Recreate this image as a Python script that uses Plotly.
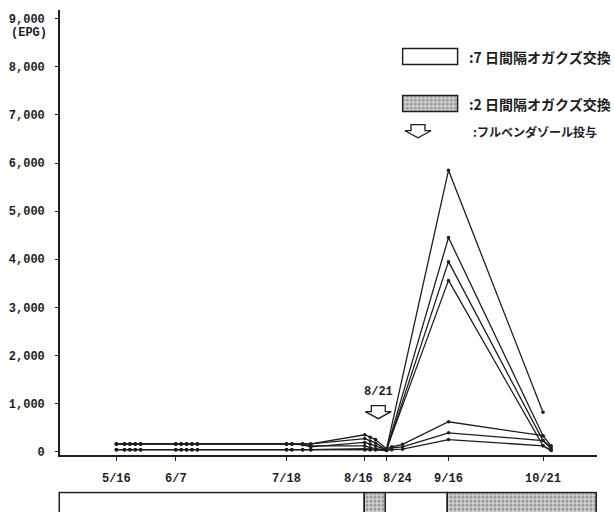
import datetime as dt
import plotly.graph_objects as go

# ---- data -------------------------------------------------------------
YEAR = 1989
sample_days = ["5/16", "5/19", "5/21", "5/23", "5/25",
               "6/7", "6/9", "6/11", "6/13", "6/15",
               "7/18", "7/20", "7/24", "7/27",
               "8/16", "8/18", "8/20", "8/24", "8/26", "8/30",
               "9/16", "10/21", "10/24"]

# EPG per animal on each sampling day (None = not sampled)
epg_a = [160, 160, 160, 160, 160, 160, 160, 160, 160, 160, 160, 160, 140, 100,
         190, 150, 120, 40, None, None, 5850, 820, None]
epg_b = [160, 160, 160, 160, 160, 160, 160, 160, 160, 160, 160, 160, 160, 120,
         120, 80, 60, 30, None, None, 4450, 330, 120]
epg_c = [40, 40, 40, 40, 40, 40, 40, 40, 40, 40, 40, 40, 40, 40,
         60, 50, 40, 20, None, None, 3950, 230, 60]
epg_d = [40, 40, 40, 40, 40, 40, 40, 40, 40, 40, 40, 40, 40, 40,
         40, 40, 40, 40, None, None, 3560, 120, 30]
epg_e = [160, 160, 160, 160, 160, 160, 160, 160, 160, 160, 160, 160, 160, 160,
         350, 300, 250, 60, 100, 150, 620, 330, None]
epg_f = [160, 160, 160, 160, 160, 160, 160, 160, 160, 160, 160, 160, 160, 160,
         270, 220, 180, 30, 80, 100, 390, 230, 100]
epg_g = [40, 40, 40, 40, 40, 40, 40, 40, 40, 40, 40, 40, 40, 40,
         40, 40, 40, 20, 40, 50, 250, 120, 20]

tick_days = ["5/16", "6/7", "7/18", "8/16", "8/24", "9/16", "10/21"]
y_ticks = [0, 1000, 2000, 3000, 4000, 5000, 6000, 7000, 8000, 9000]
y_tick_text = ["0", "1,000", "2,000", "3,000", "4,000", "5,000",
               "6,000", "7,000", "8,000", "9,000"]

# sawdust-exchange schedule: (start, end, interval in days)
exchange_start = ["4/25", "8/16", "8/24", "9/16"]
exchange_end = ["8/16", "8/24", "9/16", "11/10"]
exchange_interval = [7, 2, 7, 2]

dose_day = "8/21"          # flubendazole administration
axis_start, axis_end = "4/25", "11/10"

legend_texts = [":7 日間隔オガクズ交換", ":2 日間隔オガクズ交換", ":フルベンダゾール投与"]


def to_dt(md):
    m, d = md.split("/")
    return dt.datetime(YEAR, int(m), int(d))


def iso(t):
    return t.strftime("%Y-%m-%d %H:%M:%S")


# ---- layout helpers (pixel -> paper) ----------------------------------
W, H = 614, 517


def fx(p):
    return p / W


def fy(p):
    return (H - p) / H


INK = "#1e1e1e"
MONO = "Liberation Mono"
CJK = "Noto Sans CJK JP"
TICK_FONT = dict(family=MONO, size=12, color=INK, weight="bold")

PLOT_L, PLOT_R, PLOT_T, PLOT_B = 60, 597, 10, 459
STRIP_TOP = 498

x0 = to_dt(axis_start) + dt.timedelta(hours=3)
x1 = to_dt(axis_end)
ms_per_px = (x1 - x0) / (PLOT_R - PLOT_L)
PAD = 3  # extra pixels so strip outlines are not clipped
x2_range = [iso(x0 - ms_per_px * PAD), iso(x1 + ms_per_px * PAD)]

x_dates = [iso(to_dt(d)) for d in sample_days]

fig = go.Figure()

for series in [epg_a, epg_b, epg_c, epg_d, epg_e, epg_f, epg_g]:
    fig.add_trace(go.Scatter(
        x=x_dates, y=series, mode="lines+markers", connectgaps=True,
        line=dict(color=INK, width=1.3),
        marker=dict(color=INK, size=3.5),
        showlegend=False, hoverinfo="skip", xaxis="x", yaxis="y"))

# exchange-interval strip under the time axis
starts = [max(to_dt(s), x0) for s in exchange_start]
ends = [to_dt(e) for e in exchange_end]
durations = [(e - s).total_seconds() * 1000.0 for s, e in zip(starts, ends)]

STIPPLE = dict(shape=".", fgcolor="#5a5a5a", bgcolor="#d2d2d2", size=4, solidity=0.45)

for interval, fill in [(7, None), (2, STIPPLE)]:
    idx = [i for i, v in enumerate(exchange_interval) if v == interval]
    marker = dict(color="white" if fill is None else "#cfcfcf",
                  line=dict(color=INK, width=1.5))
    if fill is not None:
        marker["pattern"] = fill
    fig.add_trace(go.Bar(
        orientation="h", y=[0] * len(idx),
        base=[iso(starts[i]) for i in idx], x=[durations[i] for i in idx],
        width=1.0, marker=marker,
        showlegend=False, hoverinfo="skip", xaxis="x2", yaxis="y2"))

# legend keys
fig.add_trace(go.Bar(
    orientation="h", y=[1], x=[1], base=[0], width=0.34,
    marker=dict(color="white", line=dict(color=INK, width=1.5)),
    showlegend=False, hoverinfo="skip", xaxis="x3", yaxis="y3"))
fig.add_trace(go.Bar(
    orientation="h", y=[0], x=[1], base=[0], width=0.34,
    marker=dict(color="#cfcfcf", line=dict(color=INK, width=1.5), pattern=STIPPLE),
    showlegend=False, hoverinfo="skip", xaxis="x3", yaxis="y3"))

# strip y-range: bar top (0.5) sits 2 px under the domain top
STRIP_DOM_TOP = STRIP_TOP - 2
strip_h = H - STRIP_DOM_TOP
y2_lo = -0.3
y2_hi = (0.5 + 2 / strip_h * (-y2_lo)) / (1 - 2 / strip_h)

# the two crowded August ticks get their labels nudged apart as annotations
label_shift = {"8/16": -6, "8/24": 11}
tick_text = ["" if d in label_shift else d for d in tick_days]

fig.update_layout(
    width=W, height=H, margin=dict(l=0, r=0, t=0, b=0),
    paper_bgcolor="white", plot_bgcolor="rgba(0,0,0,0)",
    bargap=0, barmode="overlay",
    xaxis=dict(domain=[fx(PLOT_L), fx(PLOT_R)], type="date", range=[iso(x0), iso(x1)],
               tickvals=[iso(to_dt(d)) for d in tick_days], ticktext=tick_text,
               tickangle=0,
               ticks="outside", ticklen=5, tickwidth=1.3, tickcolor=INK,
               showline=True, linecolor=INK, linewidth=1.6,
               showgrid=False, zeroline=False, ticklabelstandoff=6,
               tickfont=TICK_FONT, anchor="y"),
    yaxis=dict(domain=[fy(PLOT_B), fy(PLOT_T)], range=[-62, 9185],
               tickvals=y_ticks, ticktext=y_tick_text,
               ticks="outside", ticklen=3, tickwidth=1.3, tickcolor=INK,
               showline=True, linecolor=INK, linewidth=1.6,
               showgrid=False, zeroline=False, ticklabelstandoff=8,
               tickfont=TICK_FONT, anchor="x"),
    xaxis2=dict(domain=[fx(PLOT_L - PAD), fx(PLOT_R + PAD)], type="date",
                range=x2_range, visible=False, anchor="y2"),
    yaxis2=dict(domain=[0, fy(STRIP_DOM_TOP)], range=[y2_lo, y2_hi], visible=False,
                anchor="x2"),
    xaxis3=dict(domain=[fx(401.35), fx(459.65)], range=[-0.03, 1.03],
                visible=False, anchor="y3"),
    yaxis3=dict(domain=[fy(128.5), fy(34.5)], range=[-0.5, 1.5],
                visible=False, anchor="x3"),
)

for d, shift in label_shift.items():
    fig.add_annotation(text=d, x=iso(to_dt(d)), xref="x", y=fy(475), yref="paper",
                       xshift=shift, showarrow=False, xanchor="center", yanchor="top",
                       font=TICK_FONT)

# y-axis unit
fig.add_annotation(text="(EPG)", xref="paper", yref="paper", x=fx(29), y=fy(33),
                   showarrow=False, xanchor="center", yanchor="middle",
                   font=dict(family=MONO, size=12, color=INK, weight="bold"))

# dosing marker
ARROW = "M -7,6 L 7,6 L 7,0 L 13,0 L 0,-7 L -13,0 L -7,0 Z"
fig.add_shape(type="path", path=ARROW, xref="x", yref="y",
              xsizemode="pixel", ysizemode="pixel",
              xanchor=iso(to_dt(dose_day)), yanchor=830,
              line=dict(color=INK, width=1.3), fillcolor="white")
fig.add_annotation(text=dose_day, x=iso(to_dt(dose_day)), y=1240, xref="x", yref="y",
                   showarrow=False, font=TICK_FONT)

# legend arrow + texts
fig.add_shape(type="path", path=ARROW, xref="paper", yref="paper",
              xsizemode="pixel", ysizemode="pixel",
              xanchor=fx(418), yanchor=fy(132),
              line=dict(color=INK, width=1.3), fillcolor="white")
fig.add_annotation(text=legend_texts[0], xref="paper", yref="paper", x=fx(613), y=fy(58),
                   showarrow=False, xanchor="right", yanchor="middle",
                   font=dict(family=CJK, size=14, color=INK, weight="bold"))
fig.add_annotation(text=legend_texts[1], xref="paper", yref="paper", x=fx(613), y=fy(105),
                   showarrow=False, xanchor="right", yanchor="middle",
                   font=dict(family=CJK, size=14, color=INK, weight="bold"))
fig.add_annotation(text=legend_texts[2], xref="paper", yref="paper", x=fx(471), y=fy(133),
                   showarrow=False, xanchor="left", yanchor="middle",
                   font=dict(family=CJK, size=12, color=INK, weight="bold"))

fig.write_html("out.html")
